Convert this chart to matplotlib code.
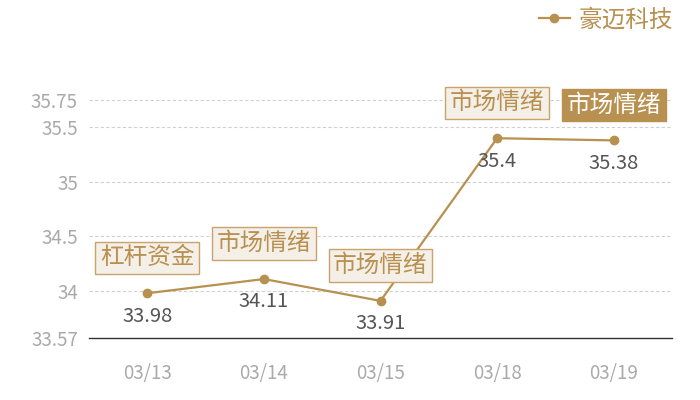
import matplotlib
matplotlib.use("Agg")
import matplotlib.pyplot as plt

plt.rcParams['font.family'] = ['Noto Sans CJK SC', 'DejaVu Sans']
plt.rcParams['font.weight'] = 'light'

dates = ["03/13", "03/14", "03/15", "03/18", "03/19"]
values = [33.98, 34.11, 33.91, 35.4, 35.38]
value_labels = ["33.98", "34.11", "33.91", "35.4", "35.38"]
tags = ["杠杆资金", "市场情绪", "市场情绪", "市场情绪", "市场情绪"]
tag_highlight = [False, False, False, False, True]
yticks = [33.57, 34, 34.5, 35, 35.5, 35.75]
ytick_labels = ["33.57", "34", "34.5", "35", "35.5", "35.75"]
series_name = "豪迈科技"

gold = "#b8904f"
fig = plt.figure(figsize=(7, 4), dpi=100)
ax = fig.add_axes([89/700, 62/400, (672-89)/700, 238/400])

x = list(range(len(dates)))
ax.plot(x, values, color=gold, lw=1.6, marker="o", ms=6, mec=gold, mfc=gold, label=series_name, zorder=3)

ax.set_xlim(-0.5, len(dates) - 0.5)
ax.set_ylim(yticks[0], yticks[-1])
ax.set_yticks(yticks)
ax.set_yticklabels(ytick_labels)
ax.set_xticks(x)
ax.set_xticklabels(dates)
ax.tick_params(axis='both', length=0, labelsize=13.5, colors="#aaaaaa")
ax.tick_params(axis='x', pad=18)
ax.tick_params(axis='y', pad=8)
for t in yticks[1:]:
    ax.axhline(t, color="#d0d0d0", lw=0.8, ls=(0, (3, 2)), zorder=1)
for s in ["top", "right", "left"]:
    ax.spines[s].set_visible(False)
ax.spines["bottom"].set_color("#333333")
ax.spines["bottom"].set_linewidth(1.0)

for xi, v, lab, tag, hi in zip(x, values, value_labels, tags, tag_highlight):
    ax.annotate(lab, (xi, v), xytext=(0, -16.5), textcoords="offset points",
                ha="center", va="center", fontsize=14.5, color="#555555")
    if hi:
        bbox = dict(boxstyle="square,pad=0.2", fc=gold, ec=gold, lw=1)
        col = "white"
    else:
        bbox = dict(boxstyle="square,pad=0.2", fc="#f4efe7", ec="#c9a36b", lw=1)
        col = gold
    ax.annotate(tag, (xi, v), xytext=(0, 25.5), textcoords="offset points",
                ha="center", va="center", fontsize=17, color=col, bbox=bbox, zorder=4)

leg = fig.legend(loc="upper right", bbox_to_anchor=(690/700, 1.02), frameon=False,
                 fontsize=17, handlelength=1.3, handletextpad=0.4, borderaxespad=0.3)
for t in leg.get_texts():
    t.set_color(gold)

fig.savefig("out.png", dpi=100)
